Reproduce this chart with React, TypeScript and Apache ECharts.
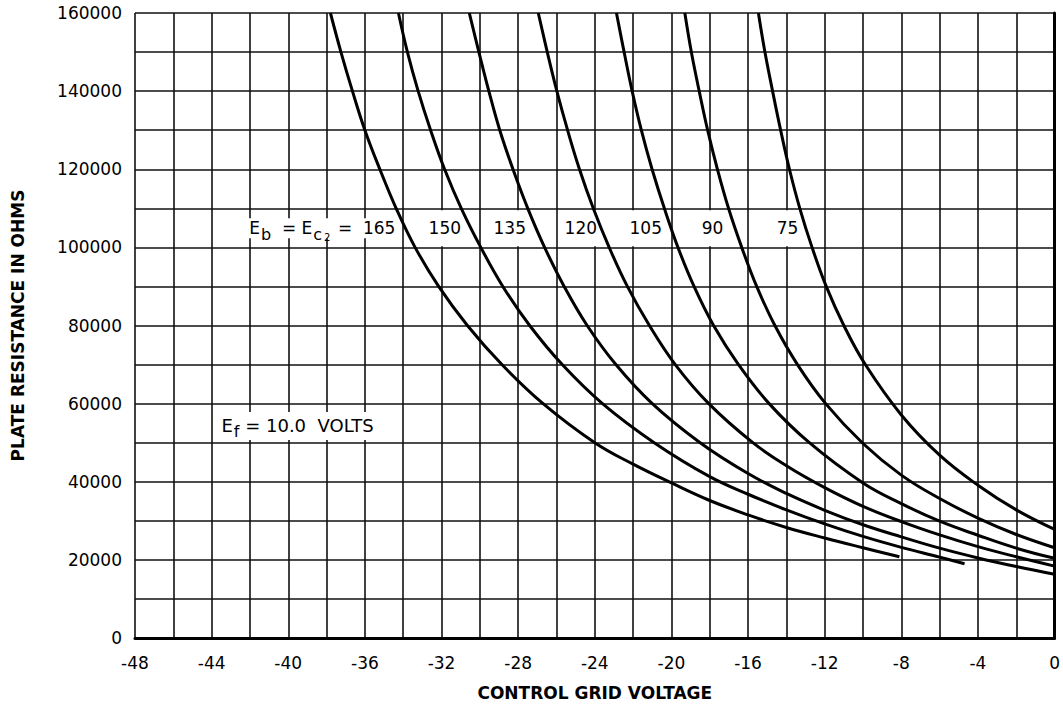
import React, { useEffect, useRef } from "react";
import * as echarts from "echarts";

// Each curve: [control grid voltage, plate resistance in ohms]
const curve165 = [
  [-37.8, 160000], [-37.25, 150000], [-36.65, 140000], [-36.0, 130000], [-35.22, 120000],
  [-34.37, 110000], [-33.38, 100000], [-32.15, 90000], [-30.65, 80000], [-28.85, 70000],
  [-26.7, 60000], [-24, 50000], [-22, 44500], [-20, 39700], [-18, 35200], [-16, 31500],
  [-14, 28300], [-12, 25600], [-10, 23100], [-8.1, 20800],
];
const curve150 = [
  [-34.25, 160000], [-33.78, 150000], [-33.22, 140000], [-32.57, 130000], [-31.84, 120000],
  [-30.97, 110000], [-29.95, 100000], [-28.8, 90000], [-27.4, 80000], [-25.7, 70000],
  [-23.6, 60000], [-20.9, 50000], [-18, 41300], [-16, 36800], [-14, 32800],
  [-12, 29200], [-10, 26000], [-8, 23200], [-6, 20700], [-4.7, 19000],
];
const curve135 = [
  [-30.55, 160000], [-30.05, 150000], [-29.53, 140000], [-28.96, 130000], [-28.27, 120000],
  [-27.5, 110000], [-26.62, 100000], [-25.6, 90000], [-24.4, 80000], [-22.9, 70000],
  [-21.0, 60000], [-18.5, 50000], [-16, 42100], [-14, 37000], [-12, 32700], [-10, 29000],
  [-8, 25900], [-6, 23000], [-4, 20500], [-2, 18300], [0, 16300],
];
const curve120 = [
  [-26.95, 160000], [-26.48, 150000], [-25.98, 140000], [-25.42, 130000], [-24.8, 120000],
  [-24.08, 110000], [-23.25, 100000], [-22.3, 90000], [-21.15, 80000], [-19.8, 70000],
  [-18.05, 60000], [-15.75, 50000], [-14, 44100], [-12, 38500], [-10, 33700], [-8, 29800],
  [-6, 26400], [-4, 23400], [-2, 20800], [0, 18400],
];
const curve105 = [
  [-22.87, 160000], [-22.47, 150000], [-22.05, 140000], [-21.57, 130000], [-21.01, 120000],
  [-20.37, 110000], [-19.66, 100000], [-18.82, 90000], [-17.8, 80000], [-16.5, 70000],
  [-14.9, 60000], [-12.8, 50000], [-10, 39700], [-8, 34400], [-6, 29900],
  [-4, 26300], [-2, 23000], [0, 20400],
];
const curve90 = [
  [-19.3, 160000], [-18.96, 150000], [-18.55, 140000], [-18.11, 130000], [-17.6, 120000],
  [-17.02, 110000], [-16.33, 100000], [-15.55, 90000], [-14.6, 80000], [-13.42, 70000],
  [-11.95, 60000], [-10, 49800], [-8, 41700], [-6, 35700], [-4, 30700], [-2, 26500], [0, 23100],
];
const curve75 = [
  [-15.46, 160000], [-15.12, 150000], [-14.72, 140000], [-14.3, 130000], [-13.84, 120000],
  [-13.3, 110000], [-12.66, 100000], [-11.92, 90000], [-11.0, 80000], [-9.88, 70000],
  [-8, 57100], [-6, 46800], [-4, 39100], [-2, 32800], [0, 27800],
];

const curveNames = ["165", "150", "135", "120", "105", "90", "75"];
// label anchor voltages (the first is the right edge of the long label)
const labelVolts = [-34.2, -31.83, -28.44, -24.73, -21.34, -17.85, -13.94];
const labelOhms = 104900;
const filamentVolts = -43.8;
const filamentOhms = 54300;

const xMin = -48;
const xMax = 0;
const xStep = 2;
const yMin = 0;
const yMax = 160000;
const yStep = 10000;

export default function App() {
  const ref = useRef<HTMLDivElement>(null);

  useEffect(() => {
    document.body.style.margin = "0";
    const chart = echarts.init(ref.current!, null, { renderer: "svg" });
    const font = "DejaVu Sans";
    const curves = [curve165, curve150, curve135, curve120, curve105, curve90, curve75];

    const series: any[] = curves.map((d, i) => ({
      type: "line",
      name: curveNames[i],
      data: d,
      smooth: 0.4,
      showSymbol: false,
      symbol: "none",
      lineStyle: { color: "#000", width: 3 },
      z: 5,
      silent: true,
    }));

    const base = { fontFamily: font, color: "#000", textBorderWidth: 0, opacity: 1 };
    const rich = {
      t: { ...base, fontSize: 17, lineHeight: 20 },
      tl: { ...base, fontSize: 18, lineHeight: 20 },
      s: { ...base, fontSize: 16, lineHeight: 16, padding: [12, 0, 0, 1] },
      c: { ...base, fontSize: 16, lineHeight: 16, padding: [13, 0, 0, 1] },
      ss: { ...base, fontSize: 10, lineHeight: 10, padding: [19, 2, 0, 2] },
    };
    const labelBase = {
      show: true,
      position: "inside",
      color: "#000",
      fontSize: 17,
      fontFamily: font,
      backgroundColor: "#fff",
      textBorderWidth: 0,
      opacity: 1,
      rich,
    };

    series.push({
      type: "scatter",
      symbolSize: 1,
      itemStyle: { color: "rgba(255,255,255,0)" },
      z: 3,
      silent: true,
      data: curveNames.map((n, i) => ({
        value: [labelVolts[i], labelOhms],
        name: n,
        label:
          i === 0
            ? {
                align: "right",
                formatter: "{t|E}{s|b}{t|  = E}{c|c}{ss|2}{t| =  " + n + "}",
                padding: [0, 4],
              }
            : { formatter: "{t|" + n + "}", padding: [8, 4] },
      })),
      label: labelBase,
    });

    series.push({
      type: "scatter",
      symbolSize: 1,
      itemStyle: { color: "rgba(255,255,255,0)" },
      z: 3,
      silent: true,
      data: [
        {
          value: [filamentVolts, filamentOhms],
          name: "Ef",
          label: {
            align: "left",
            formatter: "{tl|E}{s|f}{tl| = 10.0  VOLTS}",
            padding: [4, 6],
          },
        },
      ],
      label: labelBase,
    });

    chart.setOption({
      animation: false,
      backgroundColor: "#fff",
      grid: { left: 135, right: 8, top: 13, bottom: 75, containLabel: false },
      xAxis: {
        type: "value",
        min: xMin,
        max: xMax,
        interval: xStep,
        name: "CONTROL GRID VOLTAGE",
        nameLocation: "middle",
        nameGap: 46,
        nameTextStyle: { fontSize: 17, fontWeight: "bold", fontFamily: font, color: "#000" },
        axisLine: { show: true, lineStyle: { color: "#000", width: 3 } },
        axisTick: { show: false },
        axisLabel: {
          margin: 16,
          fontSize: 17,
          fontFamily: font,
          color: "#000",
          formatter: (v: number) => {
            const r = Math.round(v);
            if (r % 4 !== 0) return "";
            return r === 0 ? "0" : "-" + Math.abs(r);
          },
        },
        splitLine: { show: true, lineStyle: { color: "#111", width: 1.6 } },
      },
      yAxis: {
        type: "value",
        min: yMin,
        max: yMax,
        interval: yStep,
        name: "PLATE RESISTANCE IN OHMS",
        nameLocation: "middle",
        nameGap: 109,
        nameTextStyle: { fontSize: 17, fontWeight: "bold", fontFamily: font, color: "#000" },
        axisLine: { show: true, lineStyle: { color: "#000", width: 3 } },
        axisTick: { show: false },
        axisLabel: {
          margin: 13,
          fontSize: 17,
          fontFamily: font,
          color: "#000",
          formatter: (v: number) => {
            const r = Math.round(v);
            return r % 20000 === 0 ? String(r) : "";
          },
        },
        splitLine: { show: true, lineStyle: { color: "#111", width: 1.6 } },
      },
      series,
    });

    return () => chart.dispose();
  }, []);

  return <div ref={ref} style={{ width: 1063, height: 713 }} />;
}
